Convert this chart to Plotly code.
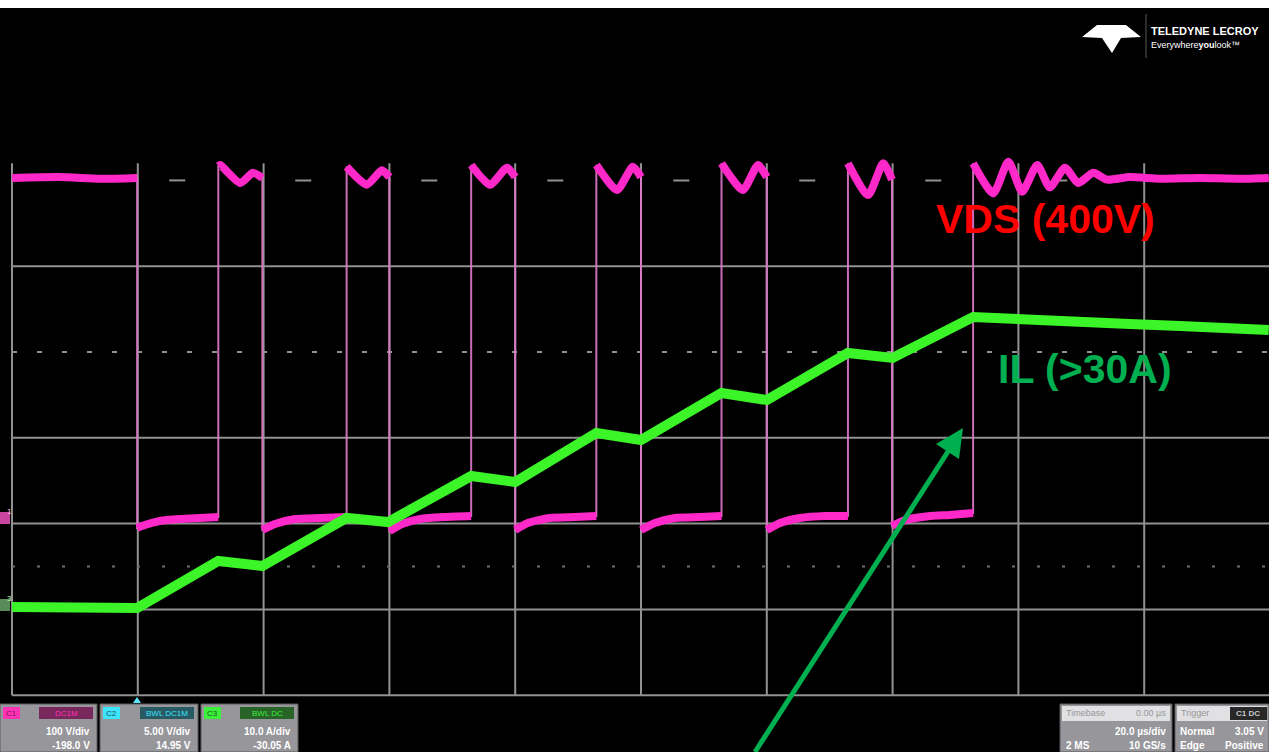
import plotly.graph_objects as go

# ---------------- data ----------------
# time in microseconds (20 us/div), VDS in volts (100 V/div), IL in amps (10 A/div)
vds_t = [0, 7.6, 14.0, 19.9,
         19.9, 21.1, 23.5, 26.7, 29.9, 32.8,
         32.8, 33.1, 36.3, 38.3, 39.8,
         39.8, 41.8, 45.0, 49.0, 53.2,
         53.2, 56.4, 58.8, 60.0,
         60.0, 62.0, 64.9, 68.8, 73.0,
         73.0, 76.0, 78.7, 80.0,
         80.0, 82.0, 85.5, 89.5, 92.9,
         92.9, 96.2, 98.7, 100.0,
         100.0, 102.2, 105.4, 109.4, 112.8,
         112.8, 116.2, 118.6, 120.0,
         120.0, 122.1, 125.3, 129.3, 132.9,
         132.9, 136.1, 138.5, 139.9,
         139.9, 142.0, 146.0, 149.1, 152.8,
         152.8, 156.0, 158.4, 160.6, 163.0, 165.0, 167.4, 169.5, 171.9, 174.1,
         177.7, 182.5, 188.9, 195.2, 199.8]
vds_v = [401, 402, 400, 401,
         -7.0, -3.5, 1.2, 3.5, 4.7, 5.8,
         415, 416, 395, 407, 401,
         -9.3, -2.3, 3.5, 4.7, 5.8,
         414, 393, 410, 402,
         -10.5, -2.3, 3.5, 5.8, 7.0,
         416, 393, 413, 402,
         -9.3, -1.2, 4.7, 5.8, 7.0,
         416, 387, 414, 402,
         -9.3, -1.2, 4.7, 5.8, 7.0,
         418, 387, 416, 402,
         -9.3, -1.2, 4.7, 7.0, 7.0,
         418, 381, 418, 399,
         -4.7, 2.3, 7.0, 8.2, 10.5,
         418, 383, 420, 385, 416, 390, 413, 395, 407, 399,
         402, 400, 401, 400, 401]

il_t = [0, 7.6, 14.0, 19.9, 32.8, 36.3, 39.8, 53.2, 56.1, 59.8, 73.0, 76.0, 80.0,
        92.9, 95.9, 100.0, 112.8, 116.5, 120.0, 132.9, 136.4, 140.0, 152.8,
        155.5, 161.8, 169.8, 177.7, 185.7, 193.6, 199.8]
il_a = [0.33, 0.33, 0.21, 0.21, 5.69, 5.45, 5.10, 10.70, 10.47, 10.23, 15.59, 15.24, 14.90,
        20.61, 20.14, 19.79, 25.27, 24.80, 24.45, 29.93, 29.70, 29.35, 34.13,
        34.01, 33.78, 33.54, 33.31, 33.08, 32.84, 32.61]

# scope settings shown on screen
ch_labels = ["C1", "C2", "C3"]
ch_header = ["DC1M", "BWL DC1M", "BWL DC"]
ch_scale = ["100 V/div", "5.00 V/div", "10.0 A/div"]
ch_offset = ["-198.0 V", "14.95 V", "-30.05 A"]

W, H = 1269, 752
PINK = "rgb(255,40,200)"
PINK_THIN = "rgba(225,120,205,0.9)"
GREEN = "rgb(60,245,40)"
GRID = "rgb(145,145,145)"
ARROW_GREEN = "rgb(0,176,80)"


def px(x):
    return x / W


def py(y):
    return 1 - y / H


# thick VDS trace: break the vertical switching edges (same time stamp)
thick_t, thick_v = [], []
for i, (t, v) in enumerate(zip(vds_t, vds_v)):
    if i > 0 and t == vds_t[i - 1]:
        thick_t.append(None)
        thick_v.append(None)
    thick_t.append(t)
    thick_v.append(v)

fig = go.Figure()

# thin full VDS (shows the switching edges)
fig.add_trace(go.Scatter(x=vds_t, y=vds_v, mode="lines", yaxis="y",
                         line=dict(color=PINK_THIN, width=2), hoverinfo="skip"))
# thick VDS levels
fig.add_trace(go.Scatter(x=thick_t, y=thick_v, mode="lines", yaxis="y",
                         line=dict(color=PINK, width=8, shape="spline", smoothing=0.6),
                         connectgaps=False, hoverinfo="skip"))
# IL
fig.add_trace(go.Scatter(x=il_t, y=il_a, mode="lines", yaxis="y2",
                         line=dict(color=GREEN, width=10), hoverinfo="skip"))

shapes = []
# grid in divisions (y3): vertical lines every 20 us
for k in range(11):
    shapes.append(dict(type="line", xref="x", yref="y3", x0=20 * k, x1=20 * k,
                       y0=-4, y1=2.2, line=dict(color=GRID, width=2), layer="below"))
for d in [1, -1, -2, -3, -4]:
    shapes.append(dict(type="line", xref="x", yref="y3", x0=0, x1=200, y0=d, y1=d,
                       line=dict(color=GRID, width=2), layer="below"))
# centre line with minor ticks (dotted look)
shapes.append(dict(type="line", xref="x", yref="y3", x0=0, x1=200, y0=0, y1=0,
                   line=dict(color=GRID, width=2, dash="5px,20px"), layer="below"))
shapes.append(dict(type="line", xref="x", yref="y3", x0=25, x1=200, y0=2, y1=2,
                   line=dict(color=GRID, width=2, dash="16px,110px"), layer="below"))
shapes.append(dict(type="line", xref="x", yref="y3", x0=0, x1=200, y0=-2.5, y1=-2.5,
                   line=dict(color="rgb(110,110,110)", width=2, dash="3px,22px"), layer="below"))

# top white strip
shapes.append(dict(type="rect", xref="paper", yref="paper", x0=0, x1=1, y0=py(8), y1=1,
                   fillcolor="white", line=dict(width=0)))

# Teledyne logo mark
logo = "M {} {} L {} {} L {} {} L {} {} L {} {} L {} {} L {} {} Z".format(
    px(1082), py(37), px(1097), py(25), px(1126), py(25), px(1141), py(37),
    px(1121), py(38), px(1112), py(53), px(1102), py(38))
shapes.append(dict(type="path", xref="paper", yref="paper", path=logo,
                   fillcolor="white", line=dict(width=0)))
shapes.append(dict(type="line", xref="paper", yref="paper", x0=px(1146), x1=px(1146),
                   y0=py(14), y1=py(58), line=dict(color="rgb(90,90,90)", width=1)))

# left edge channel markers
shapes.append(dict(type="rect", xref="paper", yref="paper", x0=0, x1=px(10), y0=py(524), y1=py(512),
                   fillcolor="rgb(200,70,160)", line=dict(width=0)))
shapes.append(dict(type="rect", xref="paper", yref="paper", x0=0, x1=px(10), y0=py(611), y1=py(599),
                   fillcolor="rgb(90,140,90)", line=dict(width=0)))
# trigger position marker
shapes.append(dict(type="path", xref="paper", yref="paper",
                   path="M {} {} L {} {} L {} {} Z".format(px(133), py(703), px(141), py(703), px(137), py(697)),
                   fillcolor="rgb(90,230,255)", line=dict(width=0)))

# green call-out arrow (shaft + head), in page pixels
shapes.append(dict(type="line", xref="paper", yref="paper", x0=px(755), y0=py(752),
                   x1=px(949), y1=py(450), line=dict(color=ARROW_GREEN, width=5)))
shapes.append(dict(type="path", xref="paper", yref="paper",
                   path="M {} {} L {} {} L {} {} Z".format(px(963), py(428), px(959), py(459),
                                                          px(936), py(444)),
                   fillcolor=ARROW_GREEN, line=dict(width=0)))

annotations = []

# channel boxes
tag_colors = ["rgb(255,50,180)", "rgb(60,230,255)", "rgb(60,240,60)"]
tag_text = ["rgb(120,20,90)", "rgb(30,80,90)", "rgb(20,90,20)"]
head_colors = ["rgb(120,40,90)", "rgb(40,90,100)", "rgb(40,100,40)"]
box_x = [(0, 97), (100, 198), (201, 298)]
for i in range(3):
    x0, x1 = box_x[i]
    shapes.append(dict(type="rect", xref="paper", yref="paper", x0=px(x0), x1=px(x1),
                       y0=0, y1=py(704), fillcolor="rgb(150,150,155)",
                       line=dict(color="rgb(90,90,90)", width=1)))
    shapes.append(dict(type="rect", xref="paper", yref="paper", x0=px(x0 + 3), x1=px(x0 + 20),
                       y0=py(719), y1=py(707), fillcolor=tag_colors[i], line=dict(width=0)))
    shapes.append(dict(type="rect", xref="paper", yref="paper", x0=px(x1 - 58), x1=px(x1 - 4),
                       y0=py(719), y1=py(707), fillcolor=head_colors[i], line=dict(width=0)))
    annotations.append(dict(text=ch_labels[i], x=px(x0 + 11.5), y=py(713), xref="paper", yref="paper",
                            showarrow=False, font=dict(size=8, color=tag_text[i], family="Liberation Sans"),
                            xanchor="center", yanchor="middle"))
    annotations.append(dict(text=ch_header[i], x=px(x1 - 31), y=py(713), xref="paper", yref="paper",
                            showarrow=False, font=dict(size=8, color=tag_colors[i], family="Liberation Sans"),
                            xanchor="center", yanchor="middle"))
    annotations.append(dict(text="<b>" + ch_scale[i] + "</b>", x=px(x1 - 5), y=py(731), xref="paper",
                            yref="paper", showarrow=False,
                            font=dict(size=10, color="white", family="Liberation Sans"),
                            xanchor="right", yanchor="middle"))
    annotations.append(dict(text="<b>" + ch_offset[i] + "</b>", x=px(x1 - 5), y=py(745), xref="paper",
                            yref="paper", showarrow=False,
                            font=dict(size=10, color="white", family="Liberation Sans"),
                            xanchor="right", yanchor="middle"))
# pink glow at bottom of C1 box
shapes.append(dict(type="rect", xref="paper", yref="paper", x0=0, x1=px(45), y0=0, y1=py(740),
                   fillcolor="rgb(255,40,180)", line=dict(width=0), opacity=0.9, layer="below"))
shapes.append(dict(type="rect", xref="paper", yref="paper", x0=px(45), x1=px(65), y0=0, y1=py(740),
                   fillcolor="rgb(230,90,190)", line=dict(width=0), opacity=0.7, layer="below"))

# timebase / trigger boxes
for (x0, x1) in [(1060, 1172), (1175, 1269)]:
    shapes.append(dict(type="rect", xref="paper", yref="paper", x0=px(x0), x1=px(x1),
                       y0=0, y1=py(704), fillcolor="rgb(150,150,155)",
                       line=dict(color="rgb(90,90,90)", width=1)))
    shapes.append(dict(type="rect", xref="paper", yref="paper", x0=px(x0 + 2), x1=px(x1 - 2),
                       y0=py(721), y1=py(706), fillcolor="rgb(225,225,228)", line=dict(width=0)))
shapes.append(dict(type="rect", xref="paper", yref="paper", x0=px(1230), x1=px(1267),
                   y0=py(720), y1=py(707), fillcolor="rgb(40,40,40)", line=dict(width=0)))

right_txt = [
    ("Timebase", 1064, 713, "left", "rgb(150,150,150)", 9),
    ("0.00 µs", 1168, 713, "right", "rgb(150,150,150)", 9),
    ("<b>20.0 µs/div</b>", 1168, 731, "right", "white", 10),
    ("<b>2 MS</b>", 1064, 745, "left", "white", 10),
    ("<b>10 GS/s</b>", 1168, 745, "right", "white", 10),
    ("Trigger", 1179, 713, "left", "rgb(150,150,150)", 9),
    ("<b>C1 DC</b>", 1248, 713, "center", "rgb(200,200,200)", 8),
    ("<b>Normal</b>", 1178, 731, "left", "white", 10),
    ("<b>3.05 V</b>", 1266, 731, "right", "white", 10),
    ("<b>Edge</b>", 1178, 745, "left", "white", 10),
    ("<b>Positive</b>", 1266, 745, "right", "white", 10),
]
for t, x, y, anc, col, sz in right_txt:
    annotations.append(dict(text=t, x=px(x), y=py(y), xref="paper", yref="paper", showarrow=False,
                            xanchor=anc, yanchor="middle",
                            font=dict(size=sz, color=col, family="Liberation Sans")))

# logo text
annotations.append(dict(text="<b>TELEDYNE LECROY</b>", x=px(1149), y=py(31), xref="paper", yref="paper",
                        showarrow=False, xanchor="left", yanchor="middle",
                        font=dict(size=11, color="white", family="Liberation Sans Narrow, Liberation Sans")))
annotations.append(dict(text="Everywhere<b>you</b>look™", x=px(1149), y=py(45), xref="paper",
                        yref="paper", showarrow=False, xanchor="left", yanchor="middle",
                        font=dict(size=9, color="white", family="Liberation Sans Narrow, Liberation Sans")))

# channel marker labels
annotations.append(dict(text="1", x=px(5), y=py(518), xref="paper", yref="paper", showarrow=False,
                        font=dict(size=8, color="rgb(255,200,240)", family="Liberation Sans")))
annotations.append(dict(text="3", x=px(5), y=py(605), xref="paper", yref="paper", showarrow=False,
                        font=dict(size=8, color="rgb(200,255,200)", family="Liberation Sans")))

# signal labels
annotations.append(dict(text="<b>VDS (400V)</b>", x=px(1045), y=py(219), xref="paper", yref="paper",
                        showarrow=False, xanchor="center", yanchor="middle",
                        font=dict(size=41, color="rgb(255,0,0)", family="Liberation Sans")))
annotations.append(dict(text="<b>IL (>30A)</b>", x=px(1085), y=py(369), xref="paper", yref="paper",
                        showarrow=False, xanchor="center", yanchor="middle",
                        font=dict(size=41, color=ARROW_GREEN, family="Liberation Sans")))

fig.update_layout(
    width=W, height=H, margin=dict(l=0, r=0, t=0, b=0, pad=0),
    paper_bgcolor="black", plot_bgcolor="black", showlegend=False,
    xaxis=dict(range=[-12 / 6.29, (W - 12) / 6.29], visible=False, fixedrange=True),
    yaxis=dict(range=[(522 - H) / 0.858, 522 / 0.858], visible=False, fixedrange=True),
    yaxis2=dict(range=[(609.8 - H) / 8.58, 609.8 / 8.58], visible=False, overlaying="y", fixedrange=True),
    yaxis3=dict(range=[-(H - 352) / 85.8, 352 / 85.8], visible=False, overlaying="y", fixedrange=True),
    shapes=shapes, annotations=annotations,
)

fig.write_html("out.html")
